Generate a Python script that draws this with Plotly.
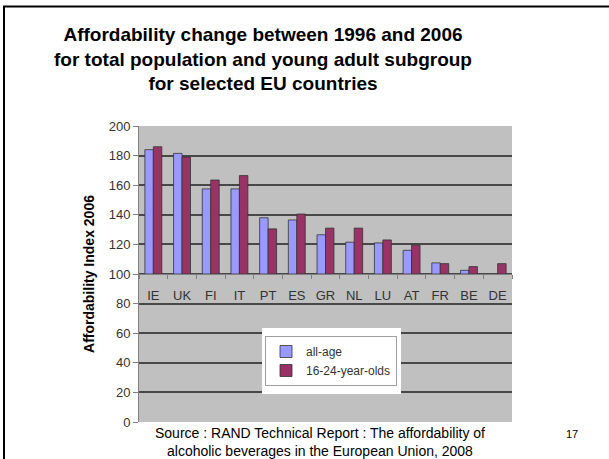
import plotly.graph_objects as go

# Affordability index 2006 (1996 = 100) by country
countries = ["IE", "UK", "FI", "IT", "PT", "ES", "GR", "NL", "LU", "AT", "FR", "BE", "DE"]
all_age = [184, 181.5, 157.5, 157.5, 138, 136.5, 126.5, 121.5, 121, 116, 107.5, 102.5, None]
young_adults = [186, 179, 163.5, 166.5, 130.5, 140.5, 131, 131, 123, 119.5, 107, 105, 107]
y_ticks = [0, 20, 40, 60, 80, 100, 120, 140, 160, 180, 200]

BASE = 100
FONT = "Liberation Sans, Arial, sans-serif"

W, H = 609, 459
L, R, T, B = 139, 97, 126, 37
PW, PH = W - L - R, H - T - B


def px_x(x):
    return (x - L) / PW


def px_y(y):
    return (H - B - y) / PH


def rel(values):
    return [None if v is None else v - BASE for v in values]


fig = go.Figure()
fig.add_trace(go.Bar(
    name="all-age", x=countries, y=rel(all_age), base=BASE,
    marker=dict(color="#9999ff", line=dict(color="#333333", width=0.8)),
))
fig.add_trace(go.Bar(
    name="16-24-year-olds", x=countries, y=rel(young_adults), base=BASE,
    marker=dict(color="#993366", line=dict(color="#333333", width=0.8)),
))

shapes = [
    # white backing behind the legend
    dict(type="rect", xref="paper", yref="paper", layer="above",
         x0=px_x(262), x1=px_x(401), y0=px_y(394), y1=px_y(328),
         fillcolor="white", line=dict(width=0)),
    # slide frame: left and top edges
    dict(type="line", xref="paper", yref="paper", layer="above",
         x0=px_x(4), x1=px_x(4), y0=px_y(470), y1=px_y(6.5),
         line=dict(color="black", width=2)),
    dict(type="line", xref="paper", yref="paper", layer="above",
         x0=px_x(3), x1=px_x(620), y0=px_y(6.5), y1=px_y(6.5),
         line=dict(color="black", width=2)),
]

annotations = [
    dict(text="Source : RAND Technical Report : The affordability of",
         x=px_x(320), y=px_y(433), xref="paper", yref="paper",
         showarrow=False, xanchor="center", yanchor="middle",
         font=dict(family=FONT, size=14, color="black")),
    dict(text="alcoholic beverages in the European Union, 2008",
         x=px_x(320), y=px_y(450.5), xref="paper", yref="paper",
         showarrow=False, xanchor="center", yanchor="middle",
         font=dict(family=FONT, size=14, color="black")),
    dict(text="17", x=px_x(572), y=px_y(434), xref="paper", yref="paper",
         showarrow=False, xanchor="center", yanchor="middle",
         font=dict(family=FONT, size=11, color="black")),
]

fig.update_layout(
    width=W, height=H,
    margin=dict(l=L, r=R, t=T, b=B, pad=0),
    paper_bgcolor="white",
    plot_bgcolor="#c0c0c0",
    barmode="group", bargap=0.41, bargroupgap=0,
    showlegend=True,
    title=dict(
        text="<b>Affordability change between 1996 and 2006<br>"
             "for total population and young adult subgroup<br>"
             "for selected EU countries</b>",
        xref="container", yref="container",
        x=263 / W, y=1 - 41 / H, xanchor="center", yanchor="top",
        font=dict(family=FONT, size=19, color="black"),
    ),
    legend=dict(
        x=px_x(265), y=px_y(336), xanchor="left", yanchor="top",
        bgcolor="white", bordercolor="#a0a0a0", borderwidth=1,
        font=dict(family=FONT, size=12, color="#333333"),
        tracegroupgap=0,
    ),
    xaxis=dict(
        type="category", anchor="free", position=0.5,
        showline=True, linecolor="#808080", linewidth=1,
        ticks="outside", tickson="boundaries", ticklen=4, tickcolor="#808080",
        ticklabelstandoff=9,
        tickfont=dict(family=FONT, size=13, color="#333333"),
        showgrid=False, zeroline=False,
    ),
    yaxis=dict(
        range=[0, 200], tickvals=y_ticks,
        showline=True, linecolor="#808080", linewidth=1,
        ticks="outside", ticklen=5, tickcolor="#808080",
        tickfont=dict(family=FONT, size=13, color="#333333"),
        showgrid=True, gridcolor="#484848", gridwidth=1.5,
        zeroline=False,
        title=dict(text="<b>Affordability Index 2006</b>", standoff=10,
                   font=dict(family=FONT, size=14, color="black")),
    ),
    shapes=shapes,
    annotations=annotations,
)

fig.write_html("out.html")
